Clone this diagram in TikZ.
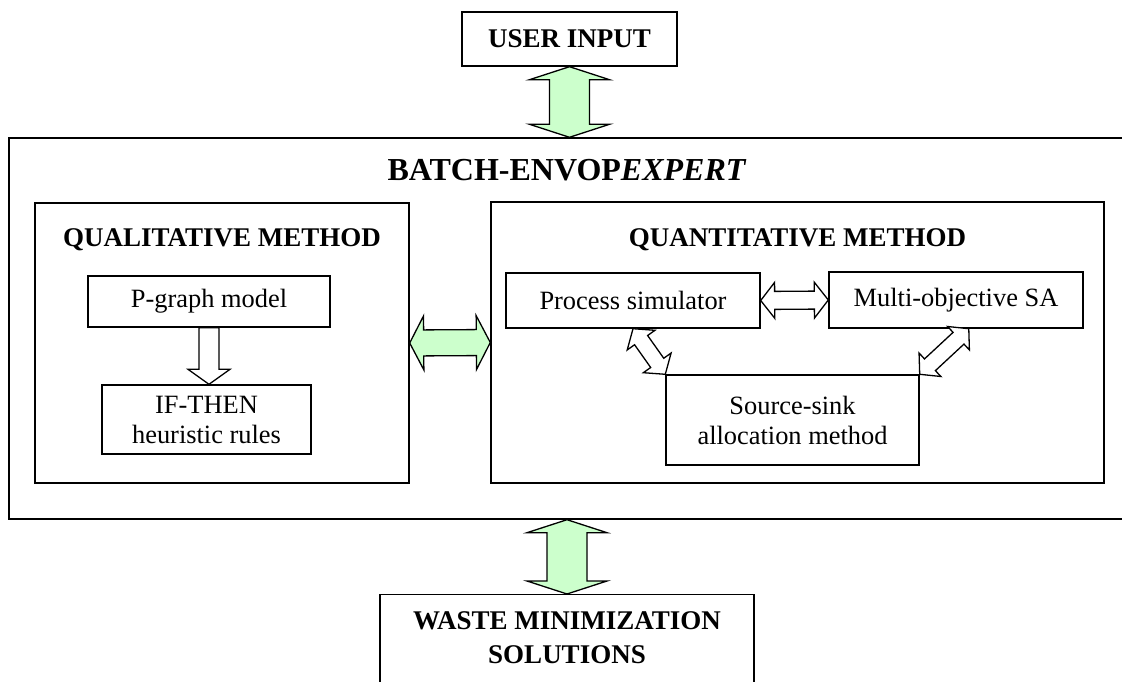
\documentclass[tikz,border=0pt]{standalone}
\usepackage{fontspec}
\setmainfont{Liberation Serif}
\usetikzlibrary{calc,positioning}

\definecolor{arrowgreen}{HTML}{CCFFCC}

\newcommand{\BigShaft}{20pt}
\newcommand{\BigHead}{40pt}
\newcommand{\BigTip}{13pt}

% double headed block arrow: style, from, to, shaft half width, head half width, head length
\newcommand{\blockarrow}[6]{%
	\coordinate (ba1) at ($(#2)!#6!(#3)$);
	\coordinate (ba2) at ($(#3)!#6!(#2)$);
	\filldraw[#1] (#2) -- ($(ba1)!#5!90:(#3)$) -- ($(ba1)!#4!90:(#3)$) -- ($(ba2)!#4!-90:(#2)$) -- ($(ba2)!#5!-90:(#2)$) -- (#3)
		-- ($(ba2)!#5!90:(#2)$) -- ($(ba2)!#4!90:(#2)$) -- ($(ba1)!#4!-90:(#3)$) -- ($(ba1)!#5!-90:(#3)$) -- cycle;
}
% single headed block arrow, same arguments
\newcommand{\singlearrow}[6]{%
	\coordinate (ba2) at ($(#3)!#6!(#2)$);
	\filldraw[#1] ($(#2)!#4!90:(#3)$) -- ($(ba2)!#4!-90:(#2)$) -- ($(ba2)!#5!-90:(#2)$) -- (#3)
		-- ($(ba2)!#5!90:(#2)$) -- ($(ba2)!#4!90:(#2)$) -- ($(#2)!#4!-90:(#3)$) -- cycle;
}

\begin{document}
\begin{tikzpicture}[x=1pt,y=-1pt,
	box/.style={draw=black,line width=1.4pt,fill=white,inner sep=0pt},
	bodytxt/.style={font=\fontsize{26.4}{30}\selectfont,align=center},
	headtxt/.style={font=\fontsize{27}{34}\selectfont\bfseries,align=center},
	titletxt/.style={font=\fontsize{32}{38}\selectfont\bfseries},
	greenarrow/.style={fill=arrowgreen,draw=black,line width=1.3pt},
	whitearrow/.style={fill=white,draw=black,line width=1.3pt}]

	%The page frame
	\useasboundingbox (0,0) rectangle (1122,682);
	\clip (0,0) rectangle (1122,682);

	%The user input
	\node[box,headtxt,minimum width=215pt,minimum height=54pt] (user) at (569.5,39) {USER INPUT};

	%The expert system frame, cut at the right edge
	\node[box,minimum width=1140pt,minimum height=381pt] (envop) at (579,328.5) {};
	\node[titletxt,anchor=base] (envoptitle) at (567,180) {BATCH-ENVOP\textit{EXPERT}};

	%The qualitative part
	\node[box,minimum width=374pt,minimum height=280pt] (qual) at (222,343) {};
	\node[headtxt,anchor=base] (qualtitle) at ($(qual.north)+(0,44)$) {QUALITATIVE METHOD};
	\node[box,bodytxt,minimum width=242pt,minimum height=51pt] (pgraph) at (209,301.5) {P-graph model};
	\node[box,bodytxt,minimum width=209pt,minimum height=69pt] (ifthen) at (206.5,419.5) {IF-THEN\\heuristic rules};

	%The quantitative part
	\node[box,minimum width=613pt,minimum height=281pt] (quant) at (797.5,342.5) {};
	\node[headtxt,anchor=base] (quanttitle) at ($(quant.north)+(0,45)$) {QUANTITATIVE METHOD};
	\node[box,bodytxt,minimum width=254pt,minimum height=55pt] (procsim) at (633,300.5) {Process simulator};
	\node[box,bodytxt,minimum width=254pt,minimum height=56pt] (multi) at (956,300) {Multi-objective SA};
	\node[box,bodytxt,minimum width=253pt,minimum height=90pt] (srcsink) at (792.5,420) {Source-sink\\allocation method};

	%The results, cut at the bottom edge
	\node[box,minimum width=374pt,minimum height=120pt,anchor=north] (waste) at (567,594) {};
	\node[headtxt] (wastetxt) at (567,638) {WASTE MINIMIZATION\\SOLUTIONS};

	%The green arrows
	\coordinate (userfoot) at (user.south |- envop.north);
	\blockarrow{greenarrow}{user.south}{userfoot}{\BigShaft}{\BigHead}{\BigTip}
	\coordinate (wastehead) at (waste.north |- envop.south);
	\blockarrow{greenarrow}{wastehead}{waste.north}{\BigShaft}{\BigHead}{\BigTip}
	\blockarrow{greenarrow}{qual.east}{quant.west}{13pt}{27pt}{14pt}

	%The white arrows
	\coordinate (ifthentop) at (pgraph.south |- ifthen.north);
	\singlearrow{whitearrow}{pgraph.south}{ifthentop}{10pt}{21pt}{15pt}
	\blockarrow{whitearrow}{procsim.east}{multi.west}{9pt}{18pt}{14pt}
	\blockarrow{whitearrow}{procsim.south}{srcsink.north west}{8pt}{17pt}{14pt}
	\coordinate (multifoot) at ($(multi.south west)!0.55!(multi.south east)$);
	\blockarrow{whitearrow}{srcsink.north east}{multifoot}{8pt}{16pt}{14pt}

\end{tikzpicture}
\end{document}
